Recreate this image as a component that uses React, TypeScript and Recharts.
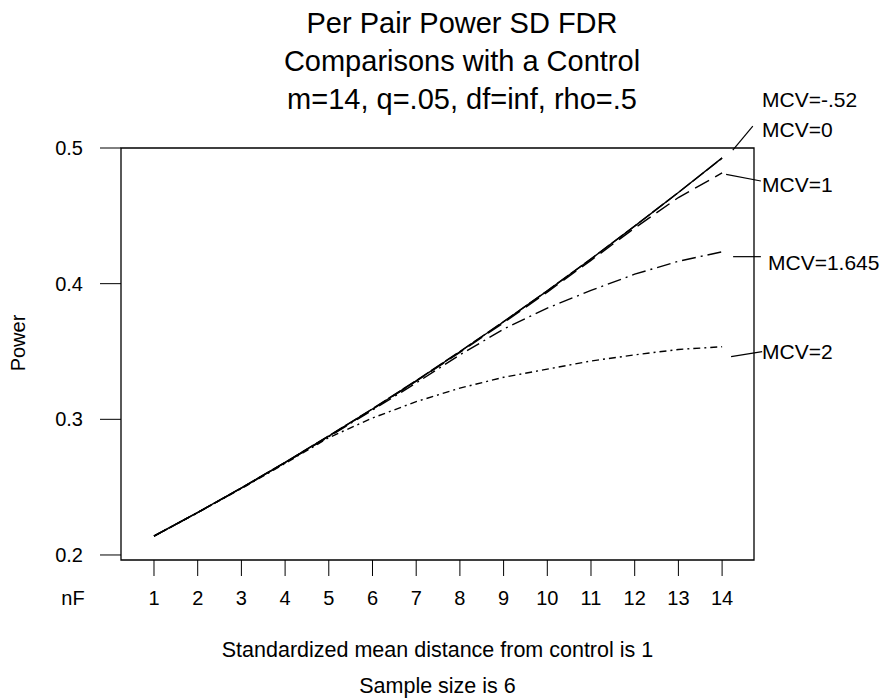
import { LineChart, Line, XAxis, YAxis, ReferenceArea, ReferenceLine } from 'recharts';

const nF = [1, 2, 3, 4, 5, 6, 7, 8, 9, 10, 11, 12, 13, 14];

const mcvNeg052 = [0.214, 0.2314, 0.2494, 0.2682, 0.2876, 0.3076, 0.3284, 0.3498, 0.3719, 0.3947, 0.4182, 0.4424, 0.4672, 0.4927];
const mcv0 = [0.2139, 0.2313, 0.2495, 0.2683, 0.2878, 0.3078, 0.3286, 0.35, 0.372, 0.3948, 0.4183, 0.4425, 0.4672, 0.4925];
const mcv1 = [0.2139, 0.2313, 0.2493, 0.2681, 0.2875, 0.3074, 0.3281, 0.3494, 0.3712, 0.3938, 0.4172, 0.441, 0.4635, 0.4816];
const mcv1645 = [0.2139, 0.2312, 0.2492, 0.2679, 0.2872, 0.3068, 0.3268, 0.3475, 0.3665, 0.382, 0.395, 0.407, 0.4165, 0.4235];
const mcv2 = [0.2139, 0.2312, 0.249, 0.2675, 0.2865, 0.301, 0.313, 0.323, 0.331, 0.337, 0.343, 0.3475, 0.3515, 0.3535];

const yTicks = [0.2, 0.3, 0.4, 0.5];
const X_DOMAIN = [0.245, 14.73];
const Y_DOMAIN = [0.1963, 0.5];

const titleLines = ['Per Pair Power SD FDR', 'Comparisons with a Control', 'm=14, q=.05, df=inf, rho=.5'];
const footLines = ['Standardized mean distance from control is 1', 'Sample size is 6'];

const data = nF.map((n, i) => ({
  n,
  a: mcvNeg052[i],
  b: mcv0[i],
  c: mcv1[i],
  d: mcv1645[i],
  e: mcv2[i],
}));

// leader lines from curve ends to the labels (data coords)
const leaders = [
  { x1: 14.245, y1: 0.4985, x2: 14.703, y2: 0.5162 },
  { x1: 14.092, y1: 0.4806, x2: 14.887, y2: 0.4757 },
  { x1: 14.252, y1: 0.4199, x2: 14.887, y2: 0.4199 },
  { x1: 14.206, y1: 0.3462, x2: 14.916, y2: 0.3499 },
];

const FONT = '"Liberation Sans", Arial, sans-serif';

export default function App() {
  return (
    <div style={{ position: 'absolute', left: 0, top: 0, width: 886, height: 698, background: '#fff', fontFamily: FONT }}>
      <LineChart width={886} height={698} data={data} margin={{ top: 148, right: 132, left: 0, bottom: 98 }}>
        <XAxis
          dataKey="n"
          type="number"
          domain={X_DOMAIN}
          ticks={nF}
          allowDataOverflow
          axisLine={false}
          tickLine={{ stroke: '#000' }}
          tickSize={16}
          tickMargin={15}
          height={40}
          tick={{ fill: '#000', fontSize: 20, fontFamily: FONT }}
        />
        <YAxis
          type="number"
          domain={Y_DOMAIN}
          ticks={yTicks}
          allowDataOverflow
          width={121}
          axisLine={false}
          tickLine={{ stroke: '#000' }}
          tickSize={21}
          tickMargin={17}
          tick={{ fill: '#000', fontSize: 20, fontFamily: FONT }}
        />
        <ReferenceArea
          x1={X_DOMAIN[0]}
          x2={X_DOMAIN[1]}
          y1={Y_DOMAIN[0]}
          y2={Y_DOMAIN[1]}
          fill="#fff"
          fillOpacity={0}
          stroke="#000"
          strokeOpacity={1}
          strokeWidth={1.3}
          ifOverflow="visible"
        />
        <Line dataKey="a" stroke="#000" strokeWidth={1.4} dot={false} isAnimationActive={false} />
        <Line dataKey="b" stroke="#000" strokeWidth={1.4} strokeDasharray="14 3" dot={false} isAnimationActive={false} />
        <Line dataKey="c" stroke="#000" strokeWidth={1.4} strokeDasharray="16 7" dot={false} isAnimationActive={false} />
        <Line dataKey="d" stroke="#000" strokeWidth={1.4} strokeDasharray="14 5 2 5" dot={false} isAnimationActive={false} />
        <Line dataKey="e" stroke="#000" strokeWidth={1.4} strokeDasharray="7 4 2 4" dot={false} isAnimationActive={false} />
        {leaders.map((l, i) => (
          <ReferenceLine
            key={i}
            segment={[{ x: l.x1, y: l.y1 }, { x: l.x2, y: l.y2 }]}
            stroke="#000"
            strokeWidth={1.2}
            ifOverflow="visible"
          />
        ))}
      </LineChart>
      <svg width={886} height={698} style={{ position: 'absolute', left: 0, top: 0, pointerEvents: 'none' }} fontFamily={FONT}>
        {titleLines.map((t, i) => (
          <text key={t} x={462} y={33 + i * 38} textAnchor="middle" fontSize={29} fill="#000">{t}</text>
        ))}
        <text x={762} y={107} fontSize={21} fill="#000">MCV=-.52</text>
        <text x={762} y={137} fontSize={21} fill="#000">MCV=0</text>
        <text x={762} y={192} fontSize={21} fill="#000">MCV=1</text>
        <text x={768} y={270} fontSize={21} fill="#000">MCV=1.645</text>
        <text x={762} y={359} fontSize={21} fill="#000">MCV=2</text>
        <text x={73} y={605} textAnchor="middle" fontSize={20} fill="#000">nF</text>
        <text x={0} y={0} transform="translate(25,343) rotate(-90)" textAnchor="middle" fontSize={20} fill="#000">Power</text>
        {footLines.map((t, i) => (
          <text key={t} x={437.5} y={657 + i * 36} textAnchor="middle" fontSize={21.5} fill="#000">{t}</text>
        ))}
      </svg>
    </div>
  );
}
